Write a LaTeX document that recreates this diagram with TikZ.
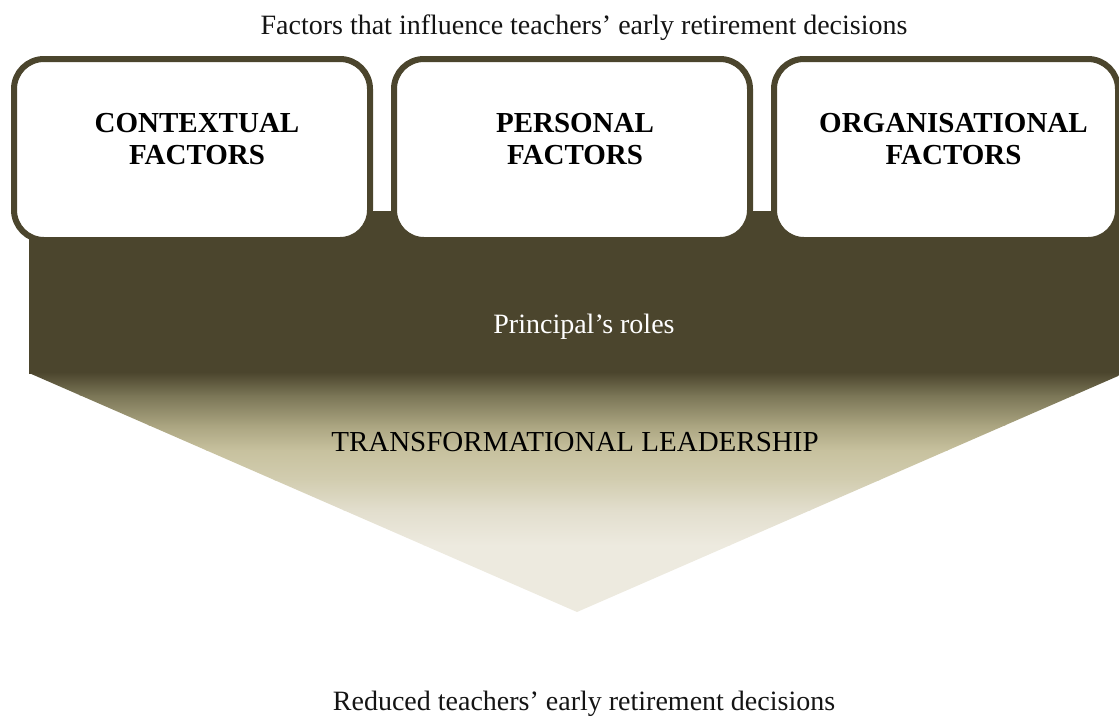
\documentclass[tikz,border=0pt]{standalone}
\usepackage{fontspec}
\setmainfont{Liberation Serif}
\definecolor{barkolive}{RGB}{75,69,45}
\definecolor{fadeA}{RGB}{122,117,86}
\definecolor{fadeB}{RGB}{170,164,128}
\definecolor{fadeC}{RGB}{199,193,158}
\definecolor{fadeD}{RGB}{210,205,176}
\definecolor{fadeE}{RGB}{226,222,205}
\definecolor{fadeF}{RGB}{237,234,223}
\definecolor{inktext}{RGB}{20,20,20}
\begin{document}
\begin{tikzpicture}[x=1pt,y=1pt,
  factorbox/.style={draw=barkolive, line width=6pt, rounded corners=30pt, fill=white,
    inner sep=0pt, minimum height=181pt},
  factortext/.style={font=\bfseries\fontsize{29}{32}\selectfont, align=center, text=black},
  plaintext/.style={font=\fontsize{28}{32}\selectfont, anchor=base, inner sep=0pt, text=inktext}]
\useasboundingbox (0,0) rectangle (1119,-716);
\begin{scope}
\clip (0,0) rectangle (1119,-716);

% dark band behind the factor boxes
\fill[barkolive] (29,-211) rectangle (1130,-373.5);

% funnel narrowing towards the outcome, fading to pale
\begin{scope}
\clip (29,-373) -- (1125,-373) -- (577,-612) -- cycle;
\shade[top color=barkolive, bottom color=fadeA] (0,-372) rectangle (1130,-395.5);
\shade[top color=fadeA, bottom color=fadeB] (0,-395) rectangle (1130,-425.5);
\shade[top color=fadeB, bottom color=fadeC] (0,-425) rectangle (1130,-450.5);
\shade[top color=fadeC, bottom color=fadeD] (0,-450) rectangle (1130,-480.5);
\shade[top color=fadeD, bottom color=fadeE] (0,-480) rectangle (1130,-510.5);
\shade[top color=fadeE, bottom color=fadeF] (0,-510) rectangle (1130,-545.5);
\fill[fadeF] (0,-545) rectangle (1130,-615);
\end{scope}

% the three groups of factors
\node[factorbox, minimum width=356pt] (ctxbox) at (192,-149.5) {};
\node[factorbox, minimum width=356pt] (perbox) at (572,-149.5) {};
\node[factorbox, minimum width=344pt] (orgbox) at (946,-149.5) {};
\end{scope}

\node[factortext] (ctxlabel) at (197,-139) {CONTEXTUAL\\FACTORS};
\node[factortext] (perlabel) at (575,-139) {PERSONAL\\FACTORS};
\node[factortext] (orglabel) at (953.5,-139) {ORGANISATIONAL\\FACTORS};

\node[plaintext] (title) at (584,-34) {Factors that influence teachers’ early retirement decisions};
\node[plaintext, text=white] (roles) at (584,-333) {Principal’s roles};
\node[plaintext, font=\fontsize{29}{32}\selectfont, text=black] (tl) at (575,-451) {TRANSFORMATIONAL LEADERSHIP};
\node[plaintext] (outcome) at (584,-710) {Reduced teachers’ early retirement decisions};
\end{tikzpicture}
\end{document}
